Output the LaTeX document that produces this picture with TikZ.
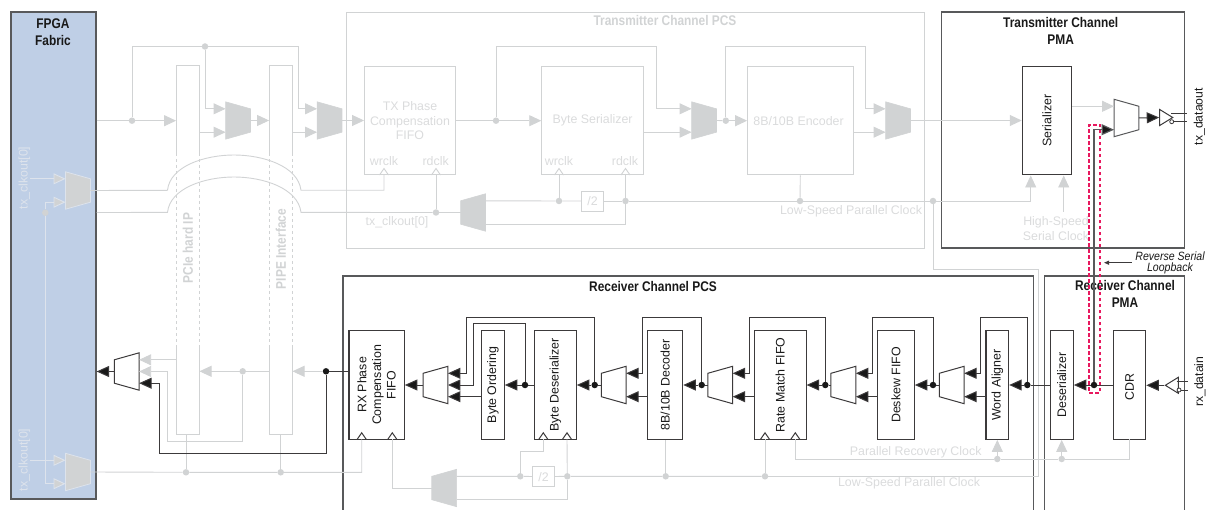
\documentclass[tikz,border=0pt]{standalone}
\usepackage{fontspec}
\setmainfont{Liberation Sans}
\newfontfamily\headfont[FakeStretch=0.85]{Liberation Sans}
\newfontfamily\narrowfont[FakeStretch=0.88]{Liberation Sans}
\usetikzlibrary{arrows.meta, calc, shapes.geometric}

\definecolor{gryline}{HTML}{D1D3D4}
\definecolor{grytxt}{HTML}{DADBDC}
\definecolor{fabblue}{HTML}{BFCFE6}
\definecolor{fabline}{HTML}{DDE3EC}
\definecolor{blkline}{HTML}{3C3A3B}
\definecolor{frmline}{HTML}{58595B}
\definecolor{loopred}{HTML}{E8185F}

% wide side left, port coordinates on it
\newcommand{\muxR}[4]{
  \node[muxbox] (#1) at (#2,#3) {};
  \draw[#4] (#1.north west) -- ($(#1.north east)+(0,7)$) -- ($(#1.south east)+(0,-7)$) -- (#1.south west) -- cycle;
  \coordinate (#1-a) at ($(#1.west)+(0,-11.7)$);
  \coordinate (#1-b) at ($(#1.west)+(0,11.7)$);
}
% wide side right
\newcommand{\muxL}[4]{
  \node[muxbox] (#1) at (#2,#3) {};
  \draw[#4] (#1.north east) -- ($(#1.north west)+(0,7)$) -- ($(#1.south west)+(0,-7)$) -- (#1.south east) -- cycle;
  \coordinate (#1-a) at ($(#1.east)+(0,-11.7)$);
  \coordinate (#1-b) at ($(#1.east)+(0,11.7)$);
}
% clock input on the bottom edge of a block
\newcommand{\clkin}[4]{
  \coordinate (#1) at (#2,#3);
  \draw[#4] ($(#1)+(-4.5,0)$) -- ($(#1)+(0,-6.5)$) -- ($(#1)+(4.5,0)$);
}

\begin{document}
\begin{tikzpicture}[
  x=1pt, y=-1pt,
  muxbox/.style={minimum width=24.5, minimum height=37, inner sep=0},
  gmx/.style={fill=gryline, draw=gryline, line width=0.6},
  fmx/.style={fill=gryline, draw=fabline, line width=0.8},
  kmx/.style={fill=white, draw=blkline, line width=1},
  gln/.style={draw=gryline, line width=0.9},
  garr/.style={gln, -{Triangle[length=12,width=11,fill=gryline]}},
  fln/.style={draw=fabline, line width=0.9},
  farr/.style={fln, -{Triangle[length=12,width=11,fill=gryline]}},
  kln/.style={draw=blkline, line width=1},
  karr/.style={kln, -{Triangle[length=12.5,width=11,fill=black!90]}},
  gbox/.style={draw=gryline, line width=0.9, inner sep=0},
  kbox/.style={draw=blkline, line width=1.1, fill=white, inner sep=0},
  frm/.style={draw=frmline, line width=1.1, inner sep=0},
  gdot/.style={circle, fill=gryline, inner sep=0, minimum size=6.5},
  kdot/.style={circle, fill=black!90, inner sep=0, minimum size=6.5},
  txt/.style={font=\fontsize{12.4}{14.6}\selectfont, align=center, inner sep=0},
  gtxt/.style={txt, text=grytxt},
  vtxt/.style={txt, rotate=90, text=black!90},
  head/.style={font=\fontsize{14}{17}\headfont\bfseries, align=center, inner sep=0},
  ghead/.style={head, text=gryline}
]
  \useasboundingbox (0,0) rectangle (1206,510);

  % Fabric and the frames
  \node[draw=frmline, line width=1.2, fill=fabblue, minimum width=85, minimum height=487, inner sep=0] (fab) at (53.5,255.5) {};
  \node[head, text=black!90] (fabt) at (53,32.5) {FPGA\\Fabric};
  \node[gbox, minimum width=577.5, minimum height=236] (txpcs) at (635.2,130) {};
  \node[frm, minimum width=243, minimum height=236] (txpma) at (1062.8,130) {};
  \node[ghead] (txpcst) at (665,21) {Transmitter Channel PCS};
  \node[head, text=black!90] (txpmat) at (1060.7,30.5) {Transmitter Channel\\PMA};
  \draw[frmline, line width=1.1] (343,510) |- (1033.3,276) -- (1033.3,510);
  \draw[frmline, line width=1.1] (1044.3,510) |- (1184.3,276) -- (1184.3,510);
  \node[head, text=black!90] (rxpcst) at (653,286.5) {Receiver Channel PCS};
  \node[head, text=black!90] (rxpmat) at (1125,294) {Receiver Channel\\PMA};

  % PCIe and PIPE columns
  \node[minimum width=23, minimum height=368, inner sep=0] (pcie) at (187.8,250) {};
  \node[minimum width=23, minimum height=368, inner sep=0] (pipe) at (280.8,250) {};
  \foreach \b in {pcie, pipe}{
    \draw[gln] (\b.west |- 0,153) |- (\b.north east) -- (\b.east |- 0,153);
    \draw[gln] (\b.west |- 0,345) |- (\b.south east) -- (\b.east |- 0,345);
    \draw[gln, dashed] (\b.west |- 0,153) -- (\b.west |- 0,345);
    \draw[gln, dashed] (\b.east |- 0,153) -- (\b.east |- 0,345);
  }
  \node[ghead, rotate=90] (pciet) at (187.8,248) {PCIe hard IP};
  \node[ghead, rotate=90] (pipet) at (280.8,249) {PIPE Interface};

  % Transmitter blocks
  \foreach \n/\cx/\w/\t in {
    txfifo/410/91/{TX Phase\\Compensation\\FIFO},
    byteser/592.6/101.8/{Byte Serializer},
    enc8b/800.3/105.4/{8B/10B Encoder}
  }{
    \node[gbox, gtxt, minimum width=\w, minimum height=108.7] (\n) at (\cx,120.6) {\t};
  }
  \node[kbox, minimum width=49.4, minimum height=108.7, label={[vtxt]center:Serializer}] (serlz) at (1047,120.6) {};
  \node[gbox, fill=white, minimum width=22, minimum height=20] (tdiv) at (592.6,201) {};
  \node[gtxt] (tdivt) at (592.6,201) {/2};
  \node[gtxt] (wr1) at (384,161) {wrclk};
  \node[gtxt] (rd1) at (435.7,161) {rdclk};
  \node[gtxt] (wr2) at (559,161) {wrclk};
  \node[gtxt] (rd2) at (625,161) {rdclk};
  \clkin{twr1}{384}{175}{gln}
  \clkin{trd1}{436}{175}{gln}
  \clkin{twr2}{559}{175}{gln}
  \clkin{trd2}{625.5}{175}{gln}

  % Transmitter muxes
  \muxR{txm1}{238}{120.5}{gmx}
  \muxR{txm2}{329.5}{120.5}{gmx}
  \muxR{txm3}{704}{120.5}{gmx}
  \muxR{txm4}{898}{120.5}{gmx}
  \muxL{tck}{473}{212.5}{gmx}
  \muxR{fm1}{78}{190.5}{fmx}
  \muxR{fm2}{78}{472}{fmx}
  \muxR{pm}{1126.5}{118}{fill=white, draw=frmline, line width=1}

  % Transmitter dots
  \foreach \n/\x/\y in {
    gd1/132/120.7, gd2/205/46.5, gd3/496/120.7, gd4/725.8/120.7,
    gd5/559/201, gd6/625.5/201, gd7/800/201, gd8/933/201, gd9/436/212.5,
    fd1/45.3/212.7, bd1/186/472.3, bd2/280.7/472.3
  }{
    \node[gdot] (\n) at (\x,\y) {};
  }

  % Transmitter data path
  \draw[garr] (fab.east |- gd1) -- (pcie.west |- gd1);
  \draw[garr] (gd1) |- (gd2) -- (298,46.5) |- (txm2-a);
  \draw[garr] (gd2) |- (txm1-a);
  \draw[garr] (pcie.east |- txm1-b) -- (txm1-b);
  \draw[garr] (txm1.east) -- (pipe.west |- txm1.east);
  \draw[garr] (pipe.east |- txm2-b) -- (txm2-b);
  \draw[garr] (txm2.east) -- (txfifo.west |- txm2.east);
  \draw[garr] (txfifo.east |- gd3) -- (byteser.west |- gd3);
  \draw[garr] (gd3) |- (656,46.5) |- (txm3-a);
  \draw[garr] (byteser.east |- txm3-b) -- (txm3-b);
  \draw[gln] (txm3.east) -- (gd4);
  \draw[garr] (gd4) -- (enc8b.west |- gd4);
  \draw[garr] (gd4) |- (865.5,46.5) |- (txm4-a);
  \draw[garr] (enc8b.east |- txm4-b) -- (txm4-b);
  \draw[garr] (txm4.east) -- (serlz.west |- txm4.east);
  \draw[garr] (serlz.east |- pm-a) -- (pm-a);

  % Transmitter clocks
  \draw[gln] (fm1.east) -- (167.5,190.3) .. controls (170,166) and (205,155) .. (234,155) .. controls (263,155) and (298,166) .. (301,190.3) -| (twr1);
  \draw[gln] (fab.east |- gd9) -- (167.5,212.4) .. controls (170,188) and (205,177) .. (234,177) .. controls (263,177) and (298,188) .. (301,212.4) -- (gd9);
  \draw[gln] (gd9) -- (tck.west);
  \draw[gln] (gd9) -- (trd1);
  \draw[gln] (tck-a) -- (gd5) -- (tdiv);
  \draw[gln] (tdiv) -- (gd6) -- (gd7) -- (gd8);
  \draw[gln] (gd5) -- (twr2);
  \draw[gln] (gd6) -- (trd2);
  \draw[gln] (tck-b) -| (gd6);
  \draw[gln] (gd7) -- (enc8b.south);
  \coordinate (sclk) at (1030.7,175.5);
  \coordinate (hclk) at (1063.7,175.5);
  \coordinate (hsrc) at (1063.7,212);
  \draw[garr] (gd8) -| (sclk);
  \draw[garr] (hsrc) -- (hclk);
  \node[gtxt] (lowt) at (851,211) {Low-Speed Parallel Clock};
  \node[gtxt] (clkt) at (397,222) {tx\_clkout[0]};
  \node[gtxt] (hight) at (1056,228.5) {High-Speed\\Serial Clock};

  % Fabric side clock muxes
  \draw[farr] (30,178.8) -- (fm1-a);
  \draw[farr] (fd1) |- (fm1-b);
  \draw[farr] (fd1) |- (fm2-b);
  \draw[farr] (30,460.3) -- (fm2-a);
  \node[txt, rotate=90, text=fabline] (ftx1) at (24.5,178) {tx\_clkout[0]};
  \node[txt, rotate=90, text=fabline] (ftx2) at (24.5,460) {tx\_clkout[0]};

  % Receiver blocks
  \foreach \n/\cx/\w/\t in {
    rxfifo/376.65/55.3/{RX Phase\\Compensation\\FIFO},
    byteord/492.8/23/{Byte Ordering},
    bytedes/555.5/41.6/{Byte Deserializer},
    dec8b/665.2/35/{8B/10B Decoder},
    ratefifo/780.2/51.7/{Rate Match FIFO},
    deskew/896/36.6/{Deskew FIFO},
    wordal/997.3/22.7/{Word Aligner},
    deser/1061.8/23/{Deserializer},
    cdr/1129.7/32/{CDR}
  }{
    \node[kbox, minimum width=\w, minimum height=108.7, label={[vtxt]center:\t}] (\n) at (\cx,385) {};
  }
  \clkin{rc1}{361.7}{439.3}{kln}
  \clkin{rc2}{392.3}{439.3}{kln}
  \clkin{rc3}{543.3}{439.3}{kln}
  \clkin{rc4}{567}{439.3}{kln}
  \clkin{rc5}{765}{439.3}{kln}
  \clkin{rc6}{795.3}{439.3}{kln}

  % Receiver muxes
  \muxL{rxm0}{126.7}{371.5}{kmx}
  \muxL{rxm1}{435.5}{385}{kmx}
  \muxL{rxm2}{613.7}{385}{kmx}
  \muxL{rxm3}{720.2}{385}{kmx}
  \muxL{rxm4}{843.4}{385}{kmx}
  \muxL{rxm5}{951.7}{385}{kmx}
  \muxL{rck}{444.2}{488}{gmx}

  % Receiver dots
  \foreach \n/\x/\y in {
    rg1/242.7/371.3, rg2/520.3/476.3, rg3/567.3/476.3, rg4/665.7/476.3,
    rg5/765/476.3, rv1/997.3/459, rv2/1061.7/459
  }{
    \node[gdot] (\n) at (\x,\y) {};
  }
  \foreach \n/\x/\y in {
    kd0/326/371.3, kd1/525/385, kd2/594.7/385, kd3/701.7/385,
    kd4/825.3/385, kd5/933/385, kd6/1027.3/385, kd7/1094/385
  }{
    \node[kdot] (\n) at (\x,\y) {};
  }
  \node[gbox, fill=white, minimum width=22, minimum height=20] (rdiv) at (543.5,476.7) {};
  \node[gtxt] (rdivt) at (543.5,476.7) {/2};

  % Receiver clocks
  \draw[gln] (gd8) |- (1038.7,269.3) -- (1038.7,476.3) -- (rg5);
  \draw[gln] (rg5) -- (rg4) -- (rg3) -- (rdiv);
  \draw[gln] (rdiv) -- (rg2) -- (rck-a);
  \draw[gln] (rg5) -- (rc5);
  \draw[gln] (rg4) -- (rg4 |- dec8b.south);
  \draw[gln] (rg3) -- (rc4);
  \draw[gln] (rg2) |- (543.3,451.7) -- (rc3);
  \draw[gln] (rck-b) -| (rg3);
  \draw[gln] (rck.west) -| (rc2);
  \draw[gln] (rc6) |- (rv1) -- (rv2) -- (1129.3,459) -- (1129.3,439.3);
  \draw[garr] (rv1) -- (rv1 |- wordal.south);
  \draw[garr] (rv2) -- (rv2 |- deser.south);
  \draw[gln] (fm2.east) -- (bd1) -- (bd2) -- (361.7,472.3) -- (rc1);
  \draw[gln] (bd1) -- (bd1 |- pcie.south);
  \draw[gln] (bd2) -- (bd2 |- pipe.south);
  \node[gtxt] (prct) at (915.7,452.7) {Parallel Recovery Clock};
  \node[gtxt] (lspt) at (909,483.7) {Low-Speed Parallel Clock};

  % Receiver data path
  \draw[kln] (rxfifo.west |- kd0) -- (kd0);
  \draw[garr] (kd0) -- (pipe.east |- kd0);
  \draw[garr] (pipe.west |- rg1) -- (pcie.east |- rg1);
  \draw[garr] (pcie.west |- rxm0-a) -- (rxm0-a);
  \draw[garr] (rg1) |- (167.5,441.3) |- (rxm0.east);
  \draw[karr] (kd0) |- (159,453.7) |- (rxm0-b);
  \draw[karr] (rxm0.west) -- (fab.east |- rxm0.west);
  \draw[karr] (rxm1.west) -- (rxfifo.east |- rxm1.west);
  \draw[karr] (kd1) -- (byteord.east |- kd1);
  \draw[kln] (bytedes.west |- kd1) -- (kd1);
  \draw[karr] (kd2) -- (bytedes.east |- kd2);
  \draw[kln] (rxm2.west) -- (kd2);
  \draw[karr] (kd3) -- (dec8b.east |- kd3);
  \draw[kln] (rxm3.west) -- (kd3);
  \draw[karr] (kd4) -- (ratefifo.east |- kd4);
  \draw[kln] (rxm4.west) -- (kd4);
  \draw[karr] (kd5) -- (deskew.east |- kd5);
  \draw[kln] (rxm5.west) -- (kd5);
  \draw[karr] (kd6) -- (wordal.east |- kd6);
  \draw[kln] (deser.west |- kd6) -- (kd6);
  \draw[karr] (kd7) -- (deser.east |- kd7);
  \draw[kln] (cdr.west |- kd7) -- (kd7);
  \draw[karr] (kd2) |- (466.7,317.3) |- (rxm1-a);
  \draw[karr] (kd1) |- (473.3,323.7) |- (rxm1.east);
  \draw[karr] (byteord.west |- rxm1-b) -- (rxm1-b);
  \draw[karr] (kd3) |- (642.7,317.3) |- (rxm2-a);
  \draw[karr] (dec8b.west |- rxm2-b) -- (rxm2-b);
  \draw[karr] (kd4) |- (749,317.3) |- (rxm3-a);
  \draw[karr] (ratefifo.west |- rxm3-b) -- (rxm3-b);
  \draw[karr] (kd5) |- (872.3,317.3) |- (rxm4-a);
  \draw[karr] (deskew.west |- rxm4-b) -- (rxm4-b);
  \draw[karr] (kd6) |- (980.7,317.3) |- (rxm5-a);
  \draw[karr] (wordal.west |- rxm5-b) -- (rxm5-b);

  % Output and input buffers
  \node[isosceles triangle, isosceles triangle stretches, draw=blkline, line width=1, fill=white, minimum width=16, minimum height=13, inner sep=0, anchor=apex] (txbuf) at (1174,117.5) {};
  \node[circle, draw=blkline, line width=0.8, fill=white, minimum size=4, inner sep=0] (txbub) at (1171.7,121.7) {};
  \coordinate (txo1) at (1187,113.3);
  \coordinate (txo2) at (1187,121.7);
  \draw[kln] (1171,113.3) -- (txo1);
  \draw[kln] (txbub) -- (txo2);
  \draw[karr] (pm.east) -- (txbuf.west);
  \node[txt, rotate=90, text=black!90, font=\fontsize{12.2}{14}\selectfont] (txout) at (1199.3,116.7) {tx\_dataout};
  \node[isosceles triangle, isosceles triangle stretches, shape border rotate=180, draw=blkline, line width=1, fill=white, minimum width=16, minimum height=13, inner sep=0, anchor=apex] (rxbuf) at (1164,385.3) {};
  \node[circle, draw=blkline, line width=0.8, fill=white, minimum size=4, inner sep=0] (rxbub) at (1179,390) {};
  \coordinate (rxi1) at (1188,381);
  \coordinate (rxi2) at (1188,390);
  \draw[kln] (1176.5,381) -- (rxi1);
  \draw[kln] (rxbub) -- (rxi2);
  \draw[karr] (rxbuf.apex) -- (cdr.east |- rxbuf.apex);
  \node[txt, rotate=90, text=black!90, font=\fontsize{12.2}{14}\selectfont] (rxin) at (1200,381.7) {rx\_datain};

  % Reverse serial loopback
  \draw[frmline, line width=1.2, -{Triangle[length=12.5,width=11,fill=black!90]}] (kd7) |- (pm-b);
  \node[draw=loopred, line width=2, dash pattern=on 3.4 off 2.6, minimum width=10.7, minimum height=268, inner sep=0] (loop) at (1094.65,258.7) {};
  \node[font=\fontsize{12}{11}\narrowfont\itshape, align=center, inner sep=0, text=black!90] (loopt) at (1170,263) {Reverse Serial\\Loopback};
  \coordinate (loopa) at (1131.7,262.7);
  \coordinate (loopb) at (1104,262.7);
  \draw[kln, -{Triangle[length=5,width=4]}] (loopa) -- (loopb);
\end{tikzpicture}
\end{document}
